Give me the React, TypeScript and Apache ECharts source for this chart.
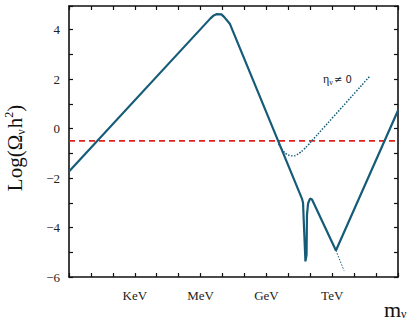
import React, { useEffect, useRef } from "react";
import * as echarts from "echarts";

// x: log10(m / eV), y: Log(Ω h²)
const xTickNames: Record<number, string> = { 3: "KeV", 6: "MeV", 9: "GeV", 12: "TeV" };

const mainCurve: [number, number][] = [
  [0, -1.74], [6.45, 4.45], [6.6, 4.57], [6.72, 4.62], [6.95, 4.61], [7.08, 4.5],
  [7.34, 4.22], [10.62, -2.83], [10.67, -3.0], [10.72, -4.1], [10.78, -5.37],
  [10.83, -5.1], [10.85, -3.5], [10.9, -3.03], [10.99, -2.83], [11.08, -2.87],
  [12.17, -4.93], [15, 0.73],
];
const tevTail: [number, number][] = [[12.17, -4.93], [12.54, -5.74]];
const etaCurve: [number, number][] = [
  [9.55, -0.62], [9.7, -0.84], [9.85, -0.99], [10.0, -1.07], [10.15, -1.1],
  [10.3, -1.1], [10.45, -1.03], [10.6, -0.93], [10.8, -0.76], [11.0, -0.57],
  [13.73, 2.13],
];
const relicLine: [number, number][] = [[0, -0.5], [15, -0.5]];

const CURVE = "#165c78";
const SERIF = "'Liberation Serif', 'DejaVu Serif', serif";

export default function App() {
  const ref = useRef<HTMLDivElement>(null);
  useEffect(() => {
    const chart = echarts.init(ref.current!, null, { renderer: "svg" });
    const axisCommon = {
      type: "value" as const,
      axisLine: { show: true, onZero: false, lineStyle: { color: "#111", width: 1.6 } },
      axisTick: { show: true, inside: true, length: 4, lineStyle: { color: "#111", width: 1.2 } },
      splitLine: { show: false },
    };
    chart.setOption({
      animation: false,
      backgroundColor: "#fff",
      grid: { left: 69, right: 12, top: 6, bottom: 50, containLabel: false },
      xAxis: [
        {
          ...axisCommon, min: 0, max: 15, interval: 1, position: "bottom",
          axisLabel: {
            margin: 12, color: "#222", fontFamily: SERIF, fontSize: 13,
            formatter: (v: number) => xTickNames[v] || "",
          },
        },
        { ...axisCommon, min: 0, max: 15, interval: 1, position: "top", axisLabel: { show: false } },
      ],
      yAxis: [
        {
          ...axisCommon, min: -6, max: 4.95, interval: 1, position: "left",
          axisLabel: {
            margin: 9, color: "#222", fontFamily: SERIF, fontSize: 13,
            formatter: (v: number) =>
              Number.isInteger(v) && v % 2 === 0 ? String(v).replace("-", "\u2212") : "",
          },
        },
        { ...axisCommon, min: -6, max: 4.95, interval: 1, position: "right", axisLabel: { show: false } },
      ],
      series: [
        {
          type: "line", data: relicLine, symbol: "none",
          lineStyle: { color: "#e0201c", width: 1.6, type: [6, 4] },
        },
        {
          type: "line", data: etaCurve, symbol: "none", smooth: 0.2,
          lineStyle: { color: CURVE, width: 1.5, type: "dotted" },
        },
        {
          type: "line", data: tevTail, symbol: "none",
          lineStyle: { color: CURVE, width: 1, type: [1.5, 1.5] },
        },
        {
          type: "line", data: mainCurve, symbol: "none",
          lineStyle: { color: CURVE, width: 2.2 },
        },
      ],
      graphic: [
        {
          type: "text", x: 15, y: 148, rotation: Math.PI / 2,
          style: {
            text: "{a|Log(Ω}{s|ν}{a|h}{p|2}{a|)}",
            align: "center", verticalAlign: "middle", fill: "#111",
            rich: {
              a: { fontFamily: SERIF, fontSize: 21, fill: "#111" },
              s: { fontFamily: SERIF, fontSize: 12, fill: "#111", padding: [12, 1, 0, 0] },
              p: { fontFamily: SERIF, fontSize: 12, fill: "#111", padding: [0, 0, 12, 0] },
            },
          },
        },
        {
          type: "text", x: 384, y: 309,
          style: {
            text: "{a|m}{s|ν}",
            align: "left", verticalAlign: "middle", fill: "#111",
            rich: {
              a: { fontFamily: SERIF, fontSize: 22, fill: "#111" },
              s: { fontFamily: SERIF, fontSize: 12, fill: "#111", padding: [10, 0, 0, 0] },
            },
          },
        },
        {
          type: "text", x: 323, y: 79,
          style: {
            text: "{a|η}{s|ν}{b|≠ 0}",
            align: "left", verticalAlign: "middle", fill: "#222",
            rich: {
              a: { fontFamily: SERIF, fontSize: 12, fill: "#222" },
              s: { fontFamily: SERIF, fontSize: 8, fill: "#222", padding: [7, 1, 0, 0] },
              b: { fontFamily: "'DejaVu Sans', sans-serif", fontSize: 10, fill: "#222" },
            },
          },
        },
      ],
    });
    return () => chart.dispose();
  }, []);
  return (
    <div
      ref={ref}
      style={{ position: "absolute", left: 0, top: 0, width: 410, height: 327 }}
    />
  );
}
